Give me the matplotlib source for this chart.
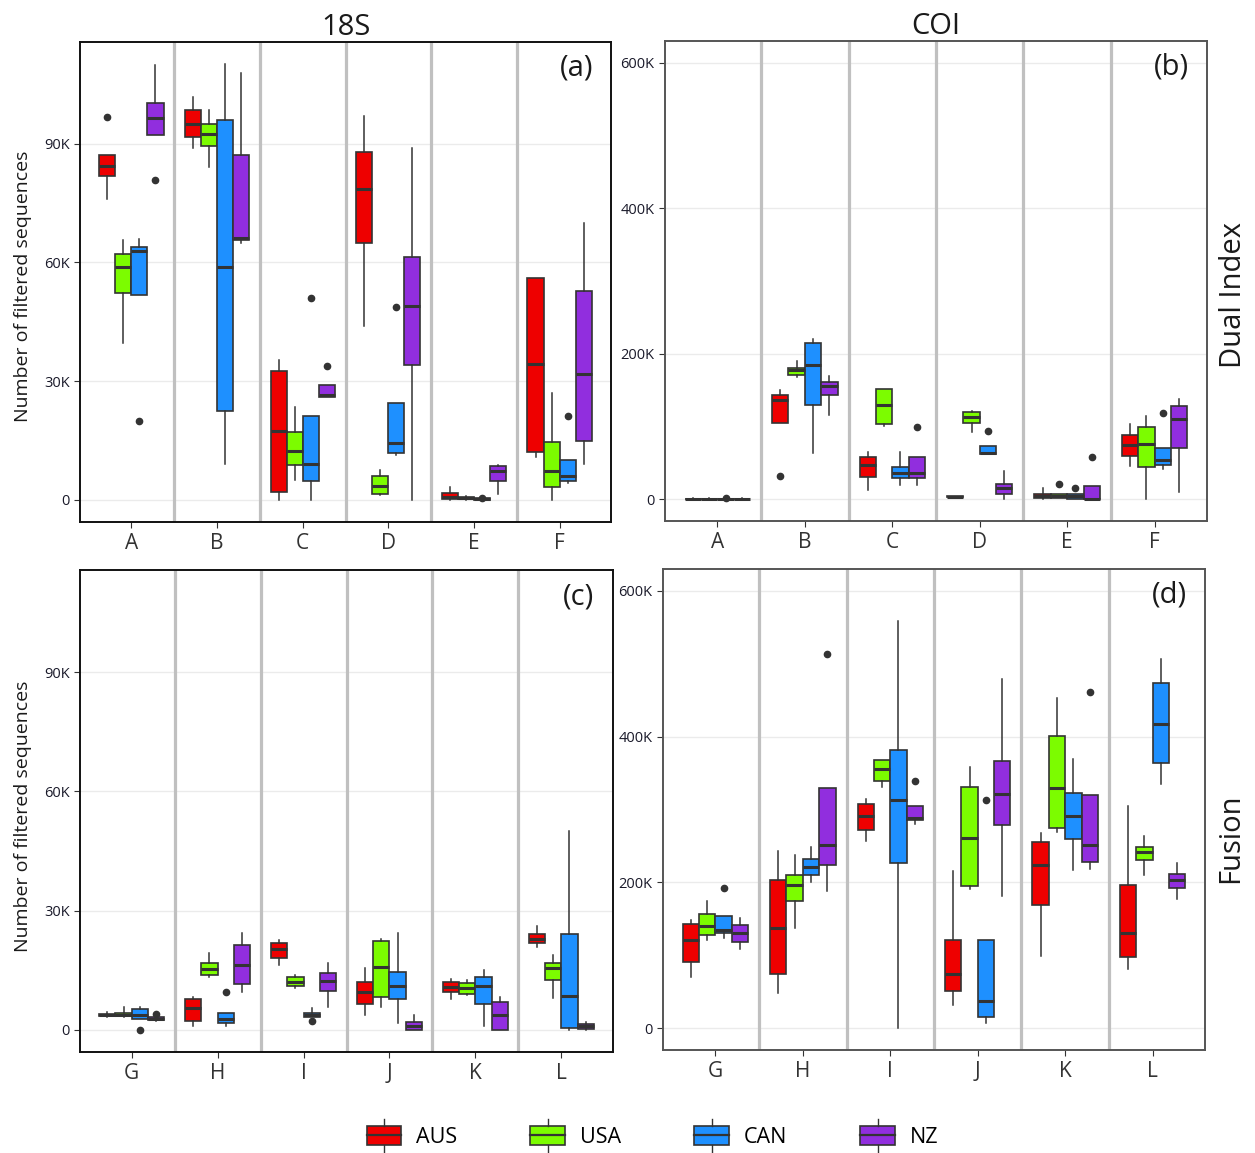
import matplotlib
matplotlib.use("Agg")
import matplotlib.pyplot as plt
from matplotlib.patches import Patch, Rectangle
from matplotlib.lines import Line2D
from matplotlib.legend_handler import HandlerBase
from matplotlib.ticker import FuncFormatter

plt.rcParams['font.family'] = ['Open Sans', 'DejaVu Sans']

countries = ['AUS', 'USA', 'CAN', 'NZ']
colors = ['#ee0000', '#7cfc00', '#1e90ff', '#912ede']
groups_top = ['A', 'B', 'C', 'D', 'E', 'F']
groups_bottom = ['G', 'H', 'I', 'J', 'K', 'L']

# values in thousands of sequences; rows = groups, columns = AUS, USA, CAN, NZ
# (a) 18S dual index
a_whislo = [[76.0, 39.6, 51.8, 92.3], [89.0, 84.2, 9.1, 64.9], [0.0, 5.0, 0.0, 26.0],
            [43.9, 1.1, 11.4, 0.0], [0.0, 0.0, 0.0, 1.5], [10.8, 0.0, 4.3, 9.1]]
a_q1 = [[81.8, 52.2, 51.8, 92.3], [91.8, 89.5, 22.4, 65.7], [1.9, 8.9, 4.7, 26.0],
        [65.0, 1.5, 11.8, 34.0], [0.1, 0.1, 0.0, 4.7], [12.0, 3.2, 4.7, 14.8]]
a_med = [[84.3, 58.8, 62.9, 96.5], [95.0, 92.5, 58.8, 66.2], [17.5, 12.3, 9.1, 26.6],
         [78.5, 3.4, 14.3, 48.9], [0.8, 0.5, 0.1, 7.4], [34.3, 7.2, 5.9, 31.9]]
a_q3 = [[87.1, 62.2, 63.9, 100.4], [98.4, 95.0, 96.0, 87.1], [32.5, 17.2, 21.3, 28.9],
        [87.9, 6.0, 24.5, 61.4], [1.7, 0.8, 0.4, 8.5], [56.1, 14.7, 10.0, 52.9]]
a_whishi = [[87.1, 65.6, 66.0, 109.8], [101.7, 98.5, 110.2, 107.8], [35.4, 23.4, 21.3, 28.9],
            [96.9, 7.6, 24.5, 88.9], [3.2, 0.9, 0.4, 8.8], [56.1, 27.1, 10.0, 70.0]]
a_fliers = [[[96.7], [], [20.0], [80.8]], [[], [], [], []], [[], [], [51.0], [33.9]],
            [[], [], [48.7], []], [[], [], [0.5], []], [[], [], [21.1], []]]

# (b) COI dual index
b_whislo = [[0, 0, 0, 0], [105.3, 168.5, 63.2, 115.9], [12.8, 100.8, 19.7, 19.7],
            [2.5, 92.5, 61.8, 0], [0, 1.5, 0.9, 0.9], [45.8, 0, 42.1, 9.2]]
b_q1 = [[0, 0, 0, 0], [105.3, 170.8, 129.6, 142.9], [31.1, 103.0, 28.9, 28.9],
        [2.5, 105.3, 61.8, 6.9], [2.3, 2.3, 0.9, 0.9], [59.5, 44.4, 46.7, 71.0]]
b_med = [[0.3, 0.3, 0.3, 0.3], [136.5, 177.7, 184.1, 155.7], [46.7, 129.2, 35.7, 36.6],
         [3.5, 113.1, 64.1, 14.7], [4.6, 4.6, 4.6, 0.9], [74.2, 76.5, 53.6, 109.9]]
b_q3 = [[0.6, 0.6, 0.6, 0.6], [142.9, 180.0, 215.3, 161.2], [58.2, 152.0, 44.9, 58.2],
        [4.5, 120.0, 73.3, 20.6], [6.9, 6.9, 6.9, 18.3], [88.4, 99.4, 71.0, 128.2]]
b_whishi = [[1.0, 1.0, 1.0, 1.0], [150.2, 190.0, 219.8, 169.5], [65.0, 152.0, 65.0, 58.2],
            [4.5, 121.4, 73.3, 38.9], [14.7, 6.9, 6.9, 18.3], [104.0, 114.5, 71.0, 137.4]]
b_fliers = [[[], [], [2.0], []], [[32.0], [], [], []], [[], [], [], [99.8]],
            [[], [], [93.9], []], [[], [20.6], [16.0], [58.6]], [[], [], [119.0], []]]

# (c) 18S fusion
c_whislo = [[3.1, 3.2, 2.7, 2.1], [0.9, 13.3, 0.9, 9.6], [16.4, 10.5, 3.2, 5.6],
            [3.7, 5.8, 1.7, 0], [7.7, 8.8, 0.9, 0], [20.9, 8.1, 0, 0]]
c_q1 = [[3.4, 3.4, 2.7, 2.5], [2.2, 13.8, 1.7, 11.5], [18.1, 10.9, 3.2, 9.8],
        [6.5, 8.3, 7.7, 0], [9.4, 9.0, 6.6, 0], [21.8, 12.6, 0.5, 0.2]]
c_med = [[3.7, 3.8, 3.7, 2.8], [5.4, 15.3, 2.8, 16.2], [20.2, 12.0, 3.8, 12.2],
         [9.4, 15.7, 10.9, 0.9], [10.7, 10.5, 11.1, 3.6], [22.8, 15.5, 8.5, 0.9]]
c_q3 = [[3.9, 4.3, 5.1, 3.1], [7.8, 16.8, 4.3, 21.3], [21.9, 13.4, 4.3, 14.3],
        [11.9, 22.3, 14.6, 1.9], [11.9, 11.7, 13.4, 7.1], [24.0, 16.8, 24.2, 1.5]]
c_whishi = [[4.4, 5.6, 5.6, 3.1], [8.3, 19.2, 4.3, 24.4], [22.5, 13.9, 5.4, 16.8],
            [15.6, 22.8, 24.4, 3.6], [12.8, 12.6, 15.1, 8.3], [26.0, 18.9, 50.0, 1.9]]
c_fliers = [[[], [], [0.0], [3.9]], [[], [], [9.4], []], [[], [], [2.1], []],
            [[], [], [], []], [[], [], [], []], [[], [], [], []]]

# (d) COI fusion
d_whislo = [[69.7, 120.3, 123.1, 109.1], [48.3, 137.9, 200.6, 188.1], [256.3, 330.7, 0, 279.6],
            [31.1, 191.3, 6.5, 181.1], [98.5, 268.9, 216.9, 218.7], [81.3, 209.9, 334.4, 177.4]]
d_q1 = [[90.6, 127.7, 131.0, 118.4], [74.8, 175.1, 210.8, 223.8], [271.7, 339.5, 226.2, 285.1],
        [51.1, 195.5, 15.8, 278.2], [169.0, 274.0, 259.6, 228.5], [97.1, 230.8, 364.1, 192.7]]
d_med = [[120.3, 140.2, 134.7, 131.0], [137.0, 196.0, 220.6, 251.2], [291.2, 355.3, 313.0, 288.9],
         [73.8, 260.5, 37.2, 321.8], [223.4, 329.7, 291.2, 251.2], [131.0, 241.0, 417.5, 203.9]]
d_q3 = [[142.6, 156.5, 154.2, 141.2], [203.9, 210.8, 232.7, 329.3], [307.4, 368.3, 381.7, 304.7],
        [121.2, 330.7, 121.2, 366.4], [255.0, 401.2, 322.8, 320.4], [196.0, 248.5, 473.2, 211.3]]
d_whishi = [[148.1, 174.2, 154.2, 150.5], [242.4, 237.8, 248.5, 329.3], [314.4, 368.3, 558.2, 304.7],
            [216.0, 358.0, 121.2, 479.2], [268.0, 452.8, 369.2, 320.4], [305.1, 264.2, 507.1, 227.1]]
d_fliers = [[[], [], [192.7], []], [[], [], [], [514.0]], [[], [], [], [339.5]],
            [[], [], [313.5], []], [[], [], [], [461.1]], [[], [], [], []]]

EDGE = '#333333'
dodge = [-0.28125, -0.09375, 0.09375, 0.28125]


def kfmt(v, pos):
    return '0' if abs(v) < 1e-9 else '%dK' % round(v)


def draw_panel(ax, lo, q1, med, q3, hi, fl, labels, ylim, yticks, letter, spine_col):
    stats, pos, cols = [], [], []
    for i in range(len(labels)):
        for j in range(len(countries)):
            stats.append(dict(whislo=lo[i][j], q1=q1[i][j], med=med[i][j],
                              q3=q3[i][j], whishi=hi[i][j], fliers=fl[i][j]))
            pos.append(i + 1 + dodge[j])
            cols.append(colors[j])
    for k in range(1, len(labels)):
        ax.axvline(k + 0.5, color='#c0c0c0', lw=2.3, zorder=1)
    for t in yticks:
        ax.axhline(t, color='#ebebeb', lw=1.0, zorder=0)
    bp = ax.bxp(stats, positions=pos, widths=0.1875, patch_artist=True, showcaps=False,
                boxprops=dict(edgecolor=EDGE, linewidth=1.2),
                medianprops=dict(color=EDGE, linewidth=2.2, solid_capstyle='butt'),
                whiskerprops=dict(color=EDGE, linewidth=1.1),
                flierprops=dict(marker='o', markerfacecolor=EDGE, markeredgecolor=EDGE,
                                markersize=4.5), zorder=3)
    for patch, c in zip(bp['boxes'], cols):
        patch.set_facecolor(c)
    ax.set_xlim(0.4, len(labels) + 0.6)
    ax.set_ylim(*ylim)
    ax.set_xticks(range(1, len(labels) + 1))
    ax.set_xticklabels(labels, fontsize=15, color='#1a1a1a')
    ax.set_yticks(yticks)
    ax.yaxis.set_major_formatter(FuncFormatter(kfmt))
    ax.tick_params(axis='y', labelsize=10.5, colors='#333333', labelcolor='#1a1a2a', length=4)
    ax.tick_params(axis='x', colors='#333333', length=4, pad=4)
    for s in ax.spines.values():
        s.set_color(spine_col)
        s.set_linewidth(1.4)
    ax.text(0.935, 0.945, letter, transform=ax.transAxes, ha='center', va='center',
            fontsize=21, color='#1a1a1a')


class BoxHandler(HandlerBase):
    def create_artists(self, legend, orig_handle, xdescent, ydescent, width, height,
                       fontsize, trans):
        x0, y0 = -xdescent, -ydescent
        cx = x0 + width / 2
        rect = Rectangle((x0, y0), width, height, facecolor=orig_handle.get_facecolor(),
                         edgecolor=EDGE, lw=1.2, transform=trans)
        med = Line2D([x0, x0 + width], [y0 + height / 2] * 2, color=EDGE, lw=1.6, transform=trans)
        top = Line2D([cx, cx], [y0 + height, y0 + height * 1.35], color=EDGE, lw=1.0, transform=trans)
        bot = Line2D([cx, cx], [y0 - height * 0.35, y0], color=EDGE, lw=1.0, transform=trans)
        return [rect, med, top, bot]


fig = plt.figure(figsize=(12.55, 11.53), dpi=100)
ax_a = fig.add_axes([80 / 1255, 1 - 522 / 1153, 531 / 1255, 480 / 1153])
ax_b = fig.add_axes([665 / 1255, 1 - 521 / 1153, 542 / 1255, 480 / 1153])
ax_c = fig.add_axes([80 / 1255, 1 - 1052 / 1153, 533 / 1255, 482 / 1153])
ax_d = fig.add_axes([663 / 1255, 1 - 1050 / 1153, 542 / 1255, 481 / 1153])

ylim_18s = (-5.6, 115.7)
ylim_coi = (-30, 630)
ticks_18s = [0, 30, 60, 90]
ticks_coi = [0, 200, 400, 600]

draw_panel(ax_a, a_whislo, a_q1, a_med, a_q3, a_whishi, a_fliers, groups_top,
           ylim_18s, ticks_18s, '(a)', '#111111')
draw_panel(ax_b, b_whislo, b_q1, b_med, b_q3, b_whishi, b_fliers, groups_top,
           ylim_coi, ticks_coi, '(b)', '#555555')
draw_panel(ax_c, c_whislo, c_q1, c_med, c_q3, c_whishi, c_fliers, groups_bottom,
           ylim_18s, ticks_18s, '(c)', '#111111')
draw_panel(ax_d, d_whislo, d_q1, d_med, d_q3, d_whishi, d_fliers, groups_bottom,
           ylim_coi, ticks_coi, '(d)', '#555555')

ax_a.set_title('18S', fontsize=21, pad=5, color='#1a1a1a')
ax_b.set_title('COI', fontsize=21, pad=5, color='#1a1a1a')
for ax in (ax_a, ax_c):
    ax.set_ylabel('Number of filtered sequences', fontsize=14, color='#1a1a1a')
    ax.yaxis.set_label_coords(-0.09, 0.49)
ax_b.text(1.048, 0.47, 'Dual Index', transform=ax_b.transAxes, rotation=90,
          ha='center', va='center', fontsize=21, color='#1a1a1a')
ax_d.text(1.048, 0.44, 'Fusion', transform=ax_d.transAxes, rotation=90,
          ha='center', va='center', fontsize=21, color='#1a1a1a')

handles = [Patch(facecolor=c, edgecolor=EDGE, label=n) for c, n in zip(colors, countries)]
fig.legend(handles=handles, loc='center', bbox_to_anchor=(0.52, 0.014), ncol=4,
           frameon=False, fontsize=15.5, handlelength=1.6, handleheight=1.0,
           handletextpad=0.7, columnspacing=3.4,
           handler_map={Patch: BoxHandler()})

fig.savefig('out.png', dpi=100)
